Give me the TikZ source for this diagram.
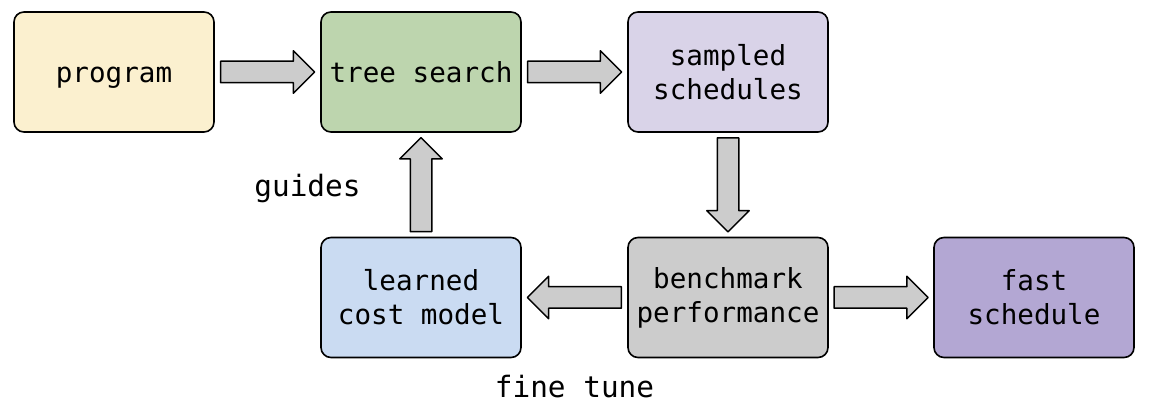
\documentclass[tikz,border=0pt]{standalone}
\usepackage{fontspec}
\setmonofont{DejaVu Sans Mono}
\usetikzlibrary{shapes.arrows}
\definecolor{progfill}{HTML}{FBF0CF}
\definecolor{treefill}{HTML}{BDD5AE}
\definecolor{sampfill}{HTML}{D9D3E8}
\definecolor{costfill}{HTML}{CADBF2}
\definecolor{benchfill}{HTML}{CCCCCC}
\definecolor{fastfill}{HTML}{B3A7D3}
\definecolor{arrowfill}{HTML}{CCCCCC}
\begin{document}
\begin{tikzpicture}[x=0.5pt, y=-0.5pt, line join=round, line cap=round,
		box/.style={draw, line width=0.8pt, rounded corners=5pt, minimum width=100pt, minimum height=60pt, align=center, inner sep=0pt, font=\ttfamily\fontsize{13.8}{17}\selectfont},
		oneline/.style={text height=12pt, text depth=1pt},
		flow/.style={single arrow, draw, line width=0.75pt, fill=arrowfill, minimum height=47pt, inner xsep=0pt, inner ysep=5pt, single arrow head extend=5.25pt, pos=0.45, sloped, allow upside down},
		lbl/.style={anchor=base, font=\ttfamily\fontsize{14.7}{17}\selectfont}]
			\useasboundingbox (0,0) rectangle (1152,416);
			\def\colA{114} 
			\def\colB{421}
			\def\colC{728}
			\def\colD{1034}
			\def\rowA{72}
			\def\rowB{297.5}
			\node[box, oneline, fill=progfill] (prog) at (\colA,\rowA) {program};
			\node[box, oneline, fill=treefill] (tree) at (\colB,\rowA) {tree search};
			\node[box, fill=sampfill] (samp) at (\colC,\rowA) {sampled\\schedules};
			\node[box, fill=costfill] (cost) at (\colB,\rowB) {learned\\cost model};
			\node[box, fill=benchfill] (bench) at (\colC,\rowB) {benchmark\\performance};
			\node[box, fill=fastfill] (fast) at (\colD,\rowB) {fast\\schedule};
			\path (prog) -- node[flow] (a1) {} (tree);
			\path (tree) -- node[flow] (a2) {} (samp);
			\path (samp) -- node[flow] (a3) {} (bench);
			\path (bench) -- node[flow] (a4) {} (cost);
			\path (cost) -- node[flow] (a5) {} (tree);
			\path (bench) -- node[flow] (a6) {} (fast);
			\node[lbl] (guides) at (307.5,197) {guides};
			\node[lbl] (finetune) at (574.5,398) {fine tune};
		\end{tikzpicture}
\end{document}
